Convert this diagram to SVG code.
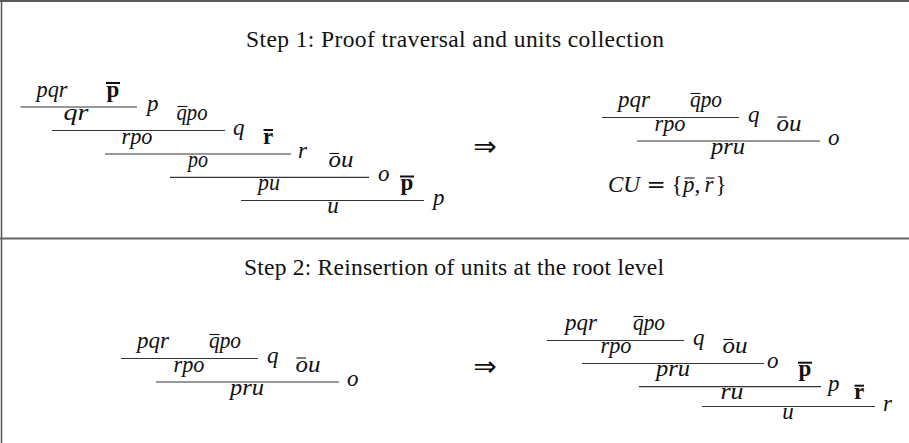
<svg xmlns="http://www.w3.org/2000/svg" width="909" height="443" viewBox="0 0 909 443">
<style>
.m{font-family:"Liberation Serif",serif;font-style:italic;font-size:23px;fill:#111}
.b{font-family:"Liberation Serif",serif;font-weight:bold;font-size:23px;fill:#111}
.t{font-family:"Liberation Serif",serif;font-size:23.5px;fill:#111}
.ar{font-family:"DejaVu Sans",sans-serif;font-size:28px;fill:#111}
.rule{stroke:#333;stroke-width:1.2}
.bar{stroke:#111;stroke-width:1.1}
.bbar{stroke:#111;stroke-width:2}
.frame{stroke:#555;fill:none}
</style>
<rect width="909" height="443" fill="#fff"/>
<g id="frame">
<line class="frame" x1="0" y1="1" x2="909" y2="1" stroke-width="1.5" style="stroke:#222"/>
<line class="frame" x1="1.5" y1="0" x2="1.5" y2="443" stroke-width="1.5"/>
<line class="frame" x1="0" y1="238.5" x2="909" y2="238.5" stroke-width="2" style="stroke:#666"/>
</g>
<g id="title1"><text class="t" x="455" y="47" text-anchor="middle" textLength="418" lengthAdjust="spacing">Step 1: Proof traversal and units collection</text></g>
<g id="title2"><text class="t" x="454" y="275" text-anchor="middle" textLength="420" lengthAdjust="spacing">Step 2: Reinsertion of units at the root level</text></g>

<g id="step1-left">
<line class="rule" x1="20.5" y1="107" x2="137" y2="107"/>
<line class="rule" x1="52" y1="130.5" x2="225" y2="130.5"/>
<line class="rule" x1="105" y1="154" x2="291" y2="154"/>
<line class="rule" x1="170" y1="177.3" x2="369" y2="177.3"/>
<line class="rule" x1="241" y1="200.5" x2="424" y2="200.5"/>
<text class="m" x="52" y="96.5" text-anchor="middle" textLength="31" lengthAdjust="spacingAndGlyphs">pqr</text>
<text class="b" x="113" y="96.5" text-anchor="middle">p</text>
<line class="bbar" x1="106" y1="83" x2="120" y2="83"/>
<text class="m" x="147" y="111">p</text>
<text class="m" x="76" y="120" text-anchor="middle" textLength="25" lengthAdjust="spacingAndGlyphs">qr</text>
<text class="m" x="192" y="120" text-anchor="middle" textLength="31" lengthAdjust="spacingAndGlyphs">qpo</text>
<line class="bar" x1="177.5" y1="106.5" x2="187.5" y2="106.5"/>
<text class="m" x="233" y="134.5">q</text>
<text class="m" x="137" y="143.5" text-anchor="middle" textLength="31" lengthAdjust="spacingAndGlyphs">rpo</text>
<text class="b" x="268" y="143.5" text-anchor="middle">r</text>
<line class="bbar" x1="263.5" y1="130" x2="273" y2="130"/>
<text class="m" x="298" y="158">r</text>
<text class="m" x="198" y="166.8" text-anchor="middle" textLength="20" lengthAdjust="spacingAndGlyphs">po</text>
<text class="m" x="341" y="166.8" text-anchor="middle" textLength="25" lengthAdjust="spacingAndGlyphs">ou</text>
<line class="bar" x1="329.5" y1="153.5" x2="339" y2="153.5"/>
<text class="m" x="378" y="181.3">o</text>
<text class="m" x="269" y="190" text-anchor="middle" textLength="22" lengthAdjust="spacingAndGlyphs">pu</text>
<text class="b" x="407" y="190" text-anchor="middle">p</text>
<line class="bbar" x1="400" y1="176.5" x2="414" y2="176.5"/>
<text class="m" x="433" y="204.5">p</text>
<text class="m" x="333" y="213" text-anchor="middle">u</text>
</g>

<g id="arrow1"><text class="ar" x="485" y="155.5" text-anchor="middle">⇒</text></g>

<g id="step1-right">
<g id="tree-a">
<line class="rule" x1="602" y1="117.5" x2="739" y2="117.5"/>
<line class="rule" x1="637" y1="141" x2="820" y2="141"/>
<text class="m" x="634" y="107" text-anchor="middle" textLength="32" lengthAdjust="spacingAndGlyphs">pqr</text>
<text class="m" x="706" y="107" text-anchor="middle" textLength="32" lengthAdjust="spacingAndGlyphs">qpo</text>
<line class="bar" x1="690.5" y1="93.5" x2="700.5" y2="93.5"/>
<text class="m" x="748" y="121.5">q</text>
<text class="m" x="670" y="130.5" text-anchor="middle" textLength="31" lengthAdjust="spacingAndGlyphs">rpo</text>
<text class="m" x="789" y="130.5" text-anchor="middle" textLength="25" lengthAdjust="spacingAndGlyphs">ou</text>
<line class="bar" x1="777.5" y1="117" x2="787" y2="117"/>
<text class="m" x="828" y="145">o</text>
<text class="m" x="728" y="153.5" text-anchor="middle" textLength="34" lengthAdjust="spacingAndGlyphs">pru</text>
</g>
<g id="cu">
<text class="m" y="192"><tspan x="608">CU</tspan><tspan x="646.5" style="font-style:normal;font-family:'DejaVu Serif',serif">=</tspan><tspan x="671.5" style="font-style:normal">{</tspan><tspan x="683">p</tspan><tspan x="694.5" style="font-style:normal">,</tspan><tspan x="704.5">r</tspan><tspan x="715.5" style="font-style:normal">}</tspan></text>
<line class="bar" x1="684.5" y1="178" x2="694.5" y2="178"/>
<line class="bar" x1="706" y1="178" x2="714.5" y2="178"/>
</g>
</g>

<g id="step2-left" transform="translate(-481,241)">
<line class="rule" x1="602" y1="117.5" x2="739" y2="117.5"/>
<line class="rule" x1="637" y1="141" x2="820" y2="141"/>
<text class="m" x="634" y="107" text-anchor="middle" textLength="32" lengthAdjust="spacingAndGlyphs">pqr</text>
<text class="m" x="706" y="107" text-anchor="middle" textLength="32" lengthAdjust="spacingAndGlyphs">qpo</text>
<line class="bar" x1="690.5" y1="93.5" x2="700.5" y2="93.5"/>
<text class="m" x="748" y="121.5">q</text>
<text class="m" x="670" y="130.5" text-anchor="middle" textLength="31" lengthAdjust="spacingAndGlyphs">rpo</text>
<text class="m" x="789" y="130.5" text-anchor="middle" textLength="25" lengthAdjust="spacingAndGlyphs">ou</text>
<line class="bar" x1="777.5" y1="117" x2="787" y2="117"/>
<text class="m" x="828" y="145">o</text>
<text class="m" x="728" y="153.5" text-anchor="middle" textLength="34" lengthAdjust="spacingAndGlyphs">pru</text>
</g>

<g id="arrow2"><text class="ar" x="485" y="375.5" text-anchor="middle">⇒</text></g>

<g id="step2-right">
<line class="rule" x1="547" y1="340.5" x2="684" y2="340.5"/>
<line class="rule" x1="582" y1="363.5" x2="764" y2="363.5"/>
<line class="rule" x1="639" y1="386.7" x2="821" y2="386.7"/>
<line class="rule" x1="702" y1="406.5" x2="875" y2="406.5"/>
<text class="m" x="581" y="330" text-anchor="middle" textLength="32" lengthAdjust="spacingAndGlyphs">pqr</text>
<text class="m" x="649" y="330" text-anchor="middle" textLength="32" lengthAdjust="spacingAndGlyphs">qpo</text>
<line class="bar" x1="633.5" y1="316.5" x2="643.5" y2="316.5"/>
<text class="m" x="693" y="344.5">q</text>
<text class="m" x="616" y="353" text-anchor="middle" textLength="31" lengthAdjust="spacingAndGlyphs">rpo</text>
<text class="m" x="735" y="353" text-anchor="middle" textLength="25" lengthAdjust="spacingAndGlyphs">ou</text>
<line class="bar" x1="723.5" y1="339.5" x2="733" y2="339.5"/>
<text class="m" x="767" y="367.5">o</text>
<text class="m" x="673" y="376.2" text-anchor="middle" textLength="34" lengthAdjust="spacingAndGlyphs">pru</text>
<text class="b" x="805" y="376.2" text-anchor="middle">p</text>
<line class="bbar" x1="798" y1="362.7" x2="812" y2="362.7"/>
<text class="m" x="828" y="390.7">p</text>
<text class="m" x="732" y="399.2" text-anchor="middle" textLength="23" lengthAdjust="spacingAndGlyphs">ru</text>
<text class="b" x="859" y="399.2" text-anchor="middle">r</text>
<line class="bbar" x1="854.5" y1="385.7" x2="864" y2="385.7"/>
<text class="m" x="883" y="410.5">r</text>
<text class="m" x="788" y="419" text-anchor="middle">u</text>
</g>
</svg>
